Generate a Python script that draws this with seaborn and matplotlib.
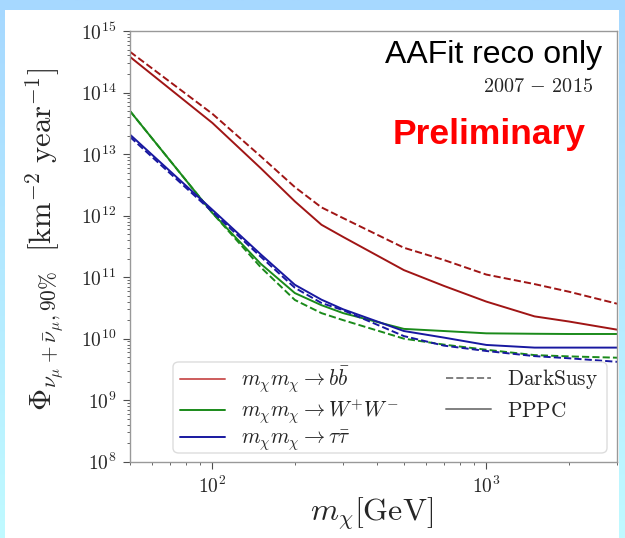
import matplotlib
matplotlib.use('Agg')
import matplotlib.pyplot as plt
import numpy as np
import seaborn as sns
from matplotlib.lines import Line2D
from matplotlib.patches import Rectangle, FancyBboxPatch
from matplotlib.ticker import FuncFormatter, NullFormatter, LogLocator

# dark matter mass [GeV]
mass = [50, 100, 150, 200, 250, 300, 500, 700, 1000, 1500, 2000, 3000]

# flux upper limits [km^-2 year^-1]
bb_pppc = [3.8e14, 3.2e13, 5.9e12, 1.7e12, 7.1e11, 4.5e11, 1.3e11, 7.2e10, 4.0e10, 2.3e10, 1.9e10, 1.4e10]
bb_ds = [4.6e14, 4.5e13, 9.2e12, 2.9e12, 1.36e12, 9.1e11, 3.0e11, 1.9e11, 1.1e11, 7.7e10, 5.8e10, 3.7e10]
ww_pppc = [5.0e13, 1.1e12, 1.65e11, 5.5e10, 3.5e10, 2.6e10, 1.44e10, 1.33e10, 1.22e10, 1.2e10, 1.19e10, 1.19e10]
ww_ds = [5.0e13, 1.1e12, 1.45e11, 4.25e10, 2.6e10, 2.0e10, 1.0e10, 8.0e9, 6.6e9, 5.4e9, 5.15e9, 4.9e9]
tt_pppc = [2.07e13, 1.24e12, 2.35e11, 7.5e10, 4.3e10, 3.0e10, 1.33e10, 1.04e10, 7.9e9, 7.15e9, 7.15e9, 7.15e9]
tt_ds = [1.9e13, 1.15e12, 2.15e11, 6.7e10, 3.8e10, 2.9e10, 1.1e10, 7.7e9, 6.3e9, 5.2e9, 4.8e9, 4.2e9]

c_red = '#a01515'
c_green = '#1a8a1a'
c_blue = '#1818a0'

sns.set_style('ticks')
plt.rcParams['mathtext.fontset'] = 'cm'
plt.rcParams['font.family'] = ['DejaVu Sans']

fig = plt.figure(figsize=(6.25, 5.38), dpi=100)

# slide-like background: blue gradient with a white panel
bg = fig.add_axes([0, 0, 1, 1], zorder=-3)
grad = np.linspace(0, 1, 256).reshape(-1, 1)
top_c = np.array([166, 216, 255]) / 255
bot_c = np.array([192, 250, 255]) / 255
img = top_c[None, None, :] * (1 - grad[:, :, None]) + bot_c[None, None, :] * grad[:, :, None]
bg.imshow(img, aspect='auto', extent=[0, 1, 0, 1])
bg.set_axis_off()
fig.add_artist(Rectangle((5 / 625, 0), 614 / 625, 528 / 538, transform=fig.transFigure,
                         facecolor='white', edgecolor='none', zorder=-2))

ax = fig.add_axes([130 / 625, (538 - 461.7) / 538, 487 / 625, 430.7 / 538])
ax.set_facecolor('white')

lw = 1.4
sns.lineplot(x=mass, y=bb_pppc, color=c_red, lw=lw, ax=ax)
sns.lineplot(x=mass, y=bb_ds, color=c_red, lw=lw, ls='--', ax=ax)
sns.lineplot(x=mass, y=ww_pppc, color=c_green, lw=lw, ax=ax)
sns.lineplot(x=mass, y=ww_ds, color=c_green, lw=lw, ls='--', ax=ax)
sns.lineplot(x=mass, y=tt_pppc, color=c_blue, lw=lw, ax=ax)
sns.lineplot(x=mass, y=tt_ds, color=c_blue, lw=lw, ls='--', ax=ax)

ax.set_xscale('log')
ax.set_yscale('log')
ax.set_xlim(50, 3000)
ax.set_ylim(1e8, 1e15)

fmt = FuncFormatter(lambda v, p: r'$10^{%d}$' % int(round(np.log10(v))))
ax.xaxis.set_major_formatter(fmt)
ax.yaxis.set_major_formatter(fmt)
ax.xaxis.set_minor_formatter(NullFormatter())
ax.yaxis.set_minor_formatter(NullFormatter())
ax.yaxis.set_major_locator(LogLocator(base=10, numticks=20))
ax.yaxis.set_minor_locator(LogLocator(base=10, subs=np.arange(2, 10), numticks=100))
ax.tick_params(which='major', labelsize=14, length=5, width=0.8, color='0.3', pad=5, labelcolor='0.15')
ax.tick_params(which='minor', length=2.5, width=0.6, color='0.3')
for s in ax.spines.values():
    s.set_color('0.6')
    s.set_linewidth(1.0)

ax.set_xlabel(r'$m_\chi[\mathrm{GeV}]$', fontsize=23)
ax.set_ylabel(r'$\Phi_{\nu_\mu+\bar{\nu}_\mu,90\%}\ \ [\mathrm{km}^{-2}\ \mathrm{year}^{-1}]$', fontsize=22)
ax.xaxis.set_label_coords(0.495, -0.08)
ax.yaxis.set_label_coords(-0.132, 0.515)

ax.text(0.969, 0.9257, 'AAFit reco only', transform=ax.transAxes, ha='right', va='baseline',
        fontsize=23, family='Liberation Sans', color='black')
ax.text(0.951, 0.8707, r'$2007\,-\,2015$', transform=ax.transAxes, ha='right', va='center',
        fontsize=14.5, color='0.15')
ax.text(0.7365, 0.737, 'Preliminary', transform=ax.transAxes, ha='center', va='baseline',
        fontsize=25.5, family='Liberation Sans', fontweight='bold', color='#ff0000')

# legend: two frameless column legends inside one rounded frame
frame = FancyBboxPatch((0.0883, 0.0202), 0.9795 - 0.0883, 0.2315 - 0.0202,
                       boxstyle='round,pad=0,rounding_size=0.012', transform=ax.transAxes,
                       facecolor='white', edgecolor='0.85', lw=1.0, alpha=0.9, zorder=4.5)
ax.add_patch(frame)

proc_handles = [Line2D([], [], color='indianred', lw=lw),
                Line2D([], [], color=c_green, lw=lw),
                Line2D([], [], color=c_blue, lw=lw)]
proc_labels = [r'$m_\chi m_\chi \rightarrow b\bar{b}$',
               r'$m_\chi m_\chi \rightarrow W^{+}W^{-}$',
               r'$m_\chi m_\chi \rightarrow \tau\bar{\tau}$']
spec_handles = [Line2D([], [], color='0.5', lw=lw, ls='--'),
                Line2D([], [], color='0.5', lw=lw)]
spec_labels = [r'$\mathrm{DarkSusy}$', r'$\mathrm{PPPC}$']

leg_kw = dict(fontsize=15.3, handlelength=2.1, handletextpad=0.75, frameon=False,
              borderpad=0, borderaxespad=0, loc='upper left')
leg1 = ax.legend(proc_handles, proc_labels, bbox_to_anchor=(0.1027, 0.224),
                 labelspacing=0.1, **leg_kw)
ax.add_artist(leg1)
leg2 = ax.legend(spec_handles, spec_labels, bbox_to_anchor=(0.649, 0.2195),
                 labelspacing=0.45, **leg_kw)

plt.savefig('out.png', dpi=100)
plt.close()
